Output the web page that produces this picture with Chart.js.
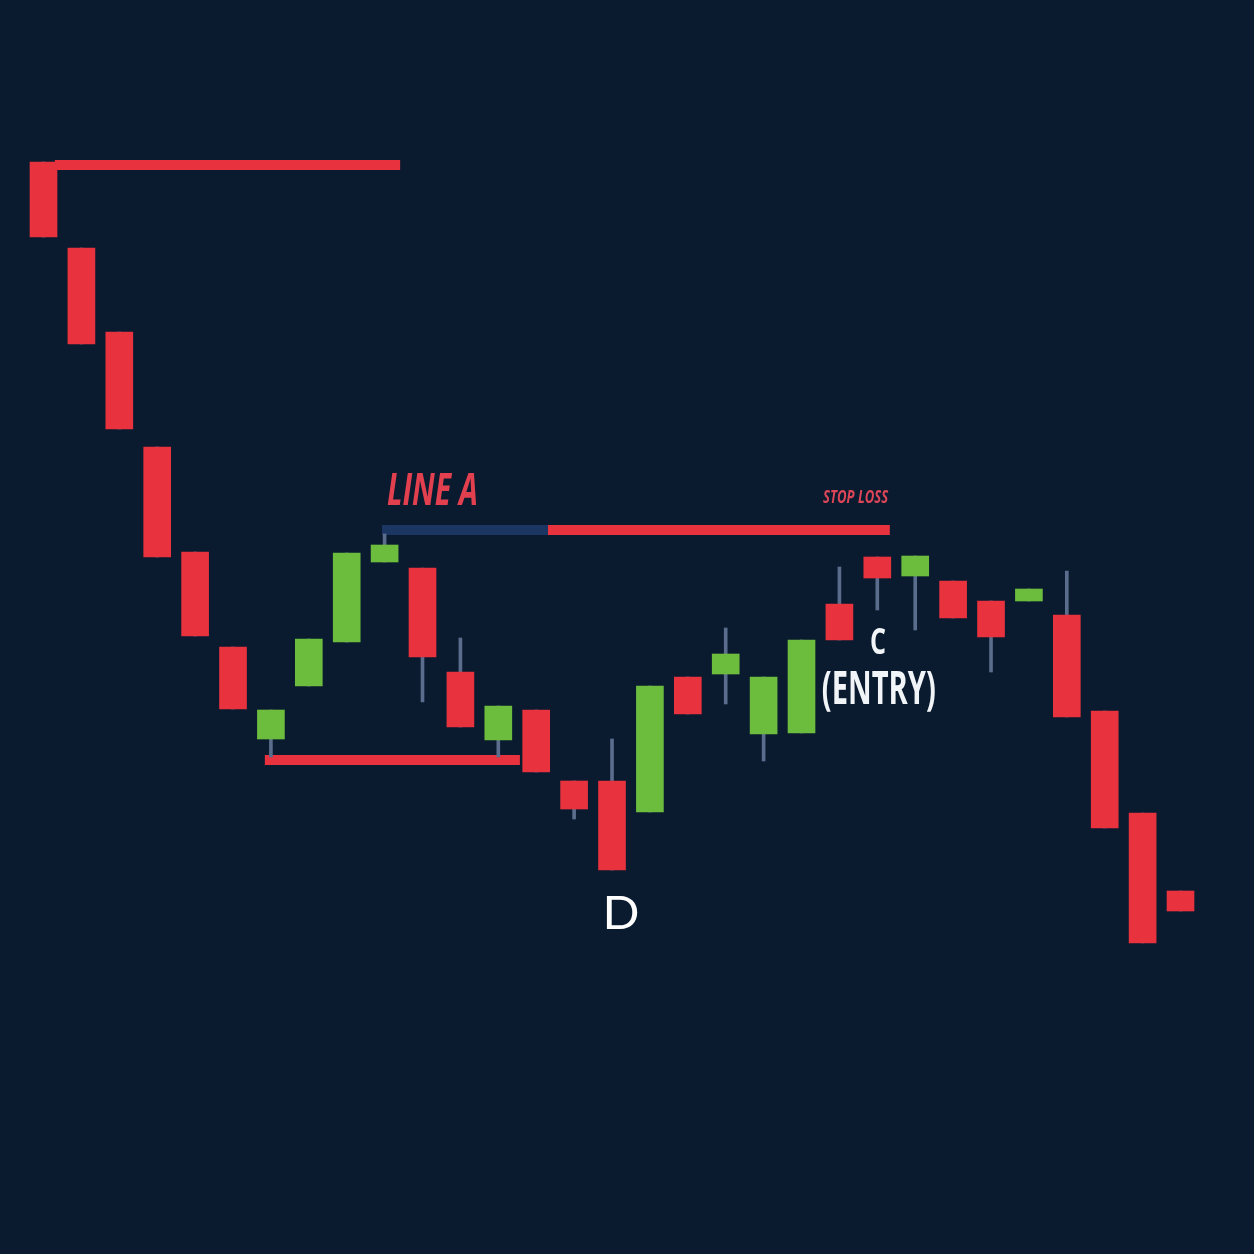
<!DOCTYPE html>
<html>
<head>
<meta charset="utf-8">
<script src="https://cdn.jsdelivr.net/npm/chart.js@4.4.1/dist/chart.umd.min.js"></script>
<style>
html,body{margin:0;padding:0;background:#0a1a2f;overflow:hidden}
canvas{display:block}
</style>
</head>
<body>
<canvas id="c" width="1254" height="1254"></canvas>
<script>
// ---- data (price units) ----
const candleIndex = [0,1,2,3,4,5,6,7,8,9,10,11,12,13,14,15,16,17,18,19,20,21,22,23,24,25,26,27,28,29,30];
const opens  = [109.2,100.6,92.2,80.7,70.2,60.7,51.5,56.8,61.2,69.2,68.6,58.2,51.4,54.4,47.3,47.3,44.2,57.7,58.0,52.0,52.1,65.0,69.7,67.8,67.3,65.3,65.3,63.9,54.3,44.1,36.3];
const highs  = [109.2,100.6,92.2,80.7,70.2,60.7,54.4,61.5,70.1,72.0,68.6,61.6,54.8,54.4,47.3,51.5,56.8,57.7,62.6,57.7,61.4,68.7,69.7,69.8,67.3,65.3,66.5,68.3,54.3,44.1,36.3];
const lows   = [101.7,91.0,82.5,69.7,61.8,54.5,49.7,56.8,61.2,69.2,55.2,52.7,49.7,48.2,43.5,38.4,44.2,54.0,55.0,49.3,52.1,61.4,64.4,62.4,63.6,58.2,65.3,53.7,42.6,31.1,34.3];
const closes = [101.7,91.0,82.5,69.7,61.8,54.5,54.4,61.5,70.1,70.9,59.7,52.7,54.8,48.2,44.5,38.4,56.8,54.0,60.0,57.7,61.4,61.4,67.6,69.8,63.6,61.7,66.5,53.7,42.6,31.1,34.3];

// horizontal levels: [startIndex, endIndex], price
const topLevelSpan = [0.30, 9.41];   const topLevelPrice = 108.9;
const lineASpan    = [8.93, 13.31];  const lineAPrice = 72.4;
const stopLossSpan = [13.31, 22.33]; const stopLossPrice = 72.4;
const bottomSpan   = [5.84, 12.57];  const bottomPrice = 49.4;

// text labels
const labelTexts = ['LINE A', 'STOP LOSS', 'C', '(ENTRY)', 'D'];
const labelX     = [9.06, 20.57, 22.02, 22.04, 15.24];
const labelY     = [74.9, 75.1, 60.0, 55.0, 32.5];

// ---- styles ----
const RED = '#e8333f', GREEN = '#6cbd3e', WICK = '#5a6d8c', BLUE = '#1b3663', BG = '#0a1a2f';
const labelStyles = [
  {align:'left',   font:'italic 700 45px "Open Sans"', color:'#e2404f', width:91},
  {align:'left',   font:'italic 700 18px "Open Sans"', color:'#dc4658', width:65},
  {align:'center', font:'700 36px "Open Sans"', color:'#f2f5f8', width:16},
  {align:'center', font:'700 46px "Open Sans"', color:'#f2f5f8', width:114},
  {align:'center', font:'400 47px "Lato"', color:'#ffffff', width:37}
];

const bodyData = candleIndex.map(i => ({x: i, y: [opens[i], closes[i]]}));
const wickData = candleIndex.map(i => ({x: i, y: [lows[i], highs[i]]}));
const bodyColors = candleIndex.map(i => closes[i] >= opens[i] ? GREEN : RED);

function level(span, price){ return [{x: span[0], y: price}, {x: span[1], y: price}]; }
function lineDs(span, price, color){
  return {type:'line', data: level(span, price), borderColor: color, borderWidth: 10,
          pointRadius: 0, borderCapStyle: 'butt', tension: 0, order: 2};
}

const bgPlugin = {
  id: 'bg',
  beforeDraw(chart){
    const ctx = chart.ctx; ctx.save(); ctx.fillStyle = BG;
    ctx.fillRect(0, 0, chart.width, chart.height); ctx.restore();
  }
};
const labelPlugin = {
  id: 'labels',
  afterDraw(chart){
    const ctx = chart.ctx, xs = chart.scales.x, ys = chart.scales.y;
    labelTexts.forEach((t, k) => {
      const s = labelStyles[k];
      ctx.save();
      ctx.font = s.font;
      ctx.fillStyle = s.color;
      ctx.textBaseline = 'alphabetic';
      ctx.textAlign = s.align;
      const w = ctx.measureText(t).width;
      ctx.translate(xs.getPixelForValue(labelX[k]), ys.getPixelForValue(labelY[k]));
      ctx.scale(s.width / w, 1);
      ctx.fillText(t, 0, 0);
      ctx.restore();
    });
  }
};

new Chart(document.getElementById('c'), {
  type: 'bar',
  data: {
    datasets: [
      {data: bodyData, backgroundColor: bodyColors, barThickness: 27, grouped: false, order: 0, borderWidth: 0},
      {data: wickData, backgroundColor: WICK, barThickness: 3, grouped: false, order: 1, borderWidth: 0},
      lineDs(topLevelSpan, topLevelPrice, RED),
      lineDs(lineASpan, lineAPrice, BLUE),
      lineDs(stopLossSpan, stopLossPrice, RED),
      lineDs(bottomSpan, bottomPrice, RED)
    ]
  },
  options: {
    responsive: false,
    animation: false,
    devicePixelRatio: 1,
    layout: {padding: 0},
    scales: {
      x: {type: 'linear', min: -1.148, max: 31.939, offset: false, display: false, grid: {offset: false}},
      y: {type: 'linear', min: 0, max: 125.4, display: false}
    },
    plugins: {legend: {display: false}, tooltip: {enabled: false}}
  },
  plugins: [bgPlugin, labelPlugin]
});
</script>
</body>
</html>
